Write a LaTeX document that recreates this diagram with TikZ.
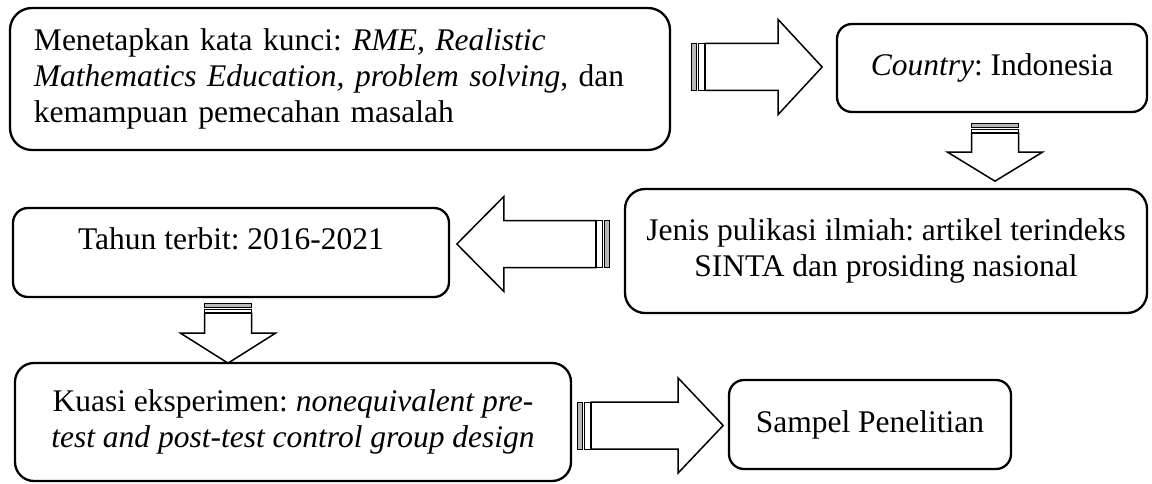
\documentclass[tikz,border=0pt]{standalone}
\usepackage{fontspec}
\setmainfont{Liberation Serif}
\usetikzlibrary{positioning, calc}
\frenchspacing
\newcommand{\boxfont}{\fontsize{31.5}{36}\selectfont}
\tikzset{
  %% rounded text boxes
  stepbox/.style={rectangle, rounded corners=15pt, draw, line width=2.3pt,
                  inner sep=0pt, align=center, font=\boxfont},
  %% striped block arrow: #1 length, #2 head length, #3/#4 stripe widths
  pics/stripearrow/.style n args={4}{code={
    \filldraw[fill=gray!55, line width=1pt] (0,-23.5) rectangle (#3,23.5);
    \draw[line width=1pt] (#3+2,-23.5) rectangle (#3+2+#4,23.5);
    \draw[line width=1.5pt, line join=miter]
      (#3+#4+3,-23.5) -- (#1-#2,-23.5) -- (#1-#2,-47.5) -- (#1,0)
      -- (#1-#2,47.5) -- (#1-#2,23.5) -- (#3+#4+3,23.5) -- cycle;
  }},
}

\begin{document}
\begin{tikzpicture}[x=1pt, y=-1pt]
\useasboundingbox (0,0) rectangle (1152,484);

%% ----- boxes -----
\node[stepbox, rounded corners=22pt, minimum width=660, minimum height=142,
      text width=612, align=left] (keyword) at (340,79)
  {Menetapkan kata kunci: \textit{RME, Realistic}\\
  \textit{Mathematics Education, problem solving}, dan\\
  kemampuan pemecahan masalah};
\node[stepbox, minimum width=310, minimum height=88] (country) at (992,68)
  {\textit{Country}: Indonesia};
\node[stepbox, rounded corners=20pt, minimum width=522, minimum height=124] (jenis) at (886,251)
  {Jenis pulikasi ilmiah: artikel terindeks\\SINTA dan prosiding nasional};
\node[stepbox, minimum width=436, minimum height=89, text depth=28pt] (tahun) at (231,252.5)
  {Tahun terbit: 2016-2021};
\node[stepbox, rounded corners=19pt, minimum width=556, minimum height=118] (kuasi) at (293,422)
  {Kuasi eksperimen: \textit{nonequivalent pre-}\\
  \textit{test and post-test control group design}};
\node[stepbox, minimum width=282, minimum height=89] (sampel) at (870,424.5)
  {Sampel Penelitian};

%% ----- arrows -----
\pic at ($(keyword.east |- country.west)+(20,-1)$) {stripearrow={131}{44}{5}{6}};
\pic[rotate=-90] at ($(country.south)+(3,10)$) {stripearrow={58}{29}{4}{3}};
\pic[rotate=180] at ($(jenis.west)+(-14,-7)$) {stripearrow={153}{47}{5}{6}};
\pic[rotate=-90] at ($(tahun.south)+(-3,5)$) {stripearrow={60}{30}{4}{3}};
\pic at ($(kuasi.east |- sampel.west)+(5,1)$) {stripearrow={146}{45}{5}{6}};

\end{tikzpicture}
\end{document}
